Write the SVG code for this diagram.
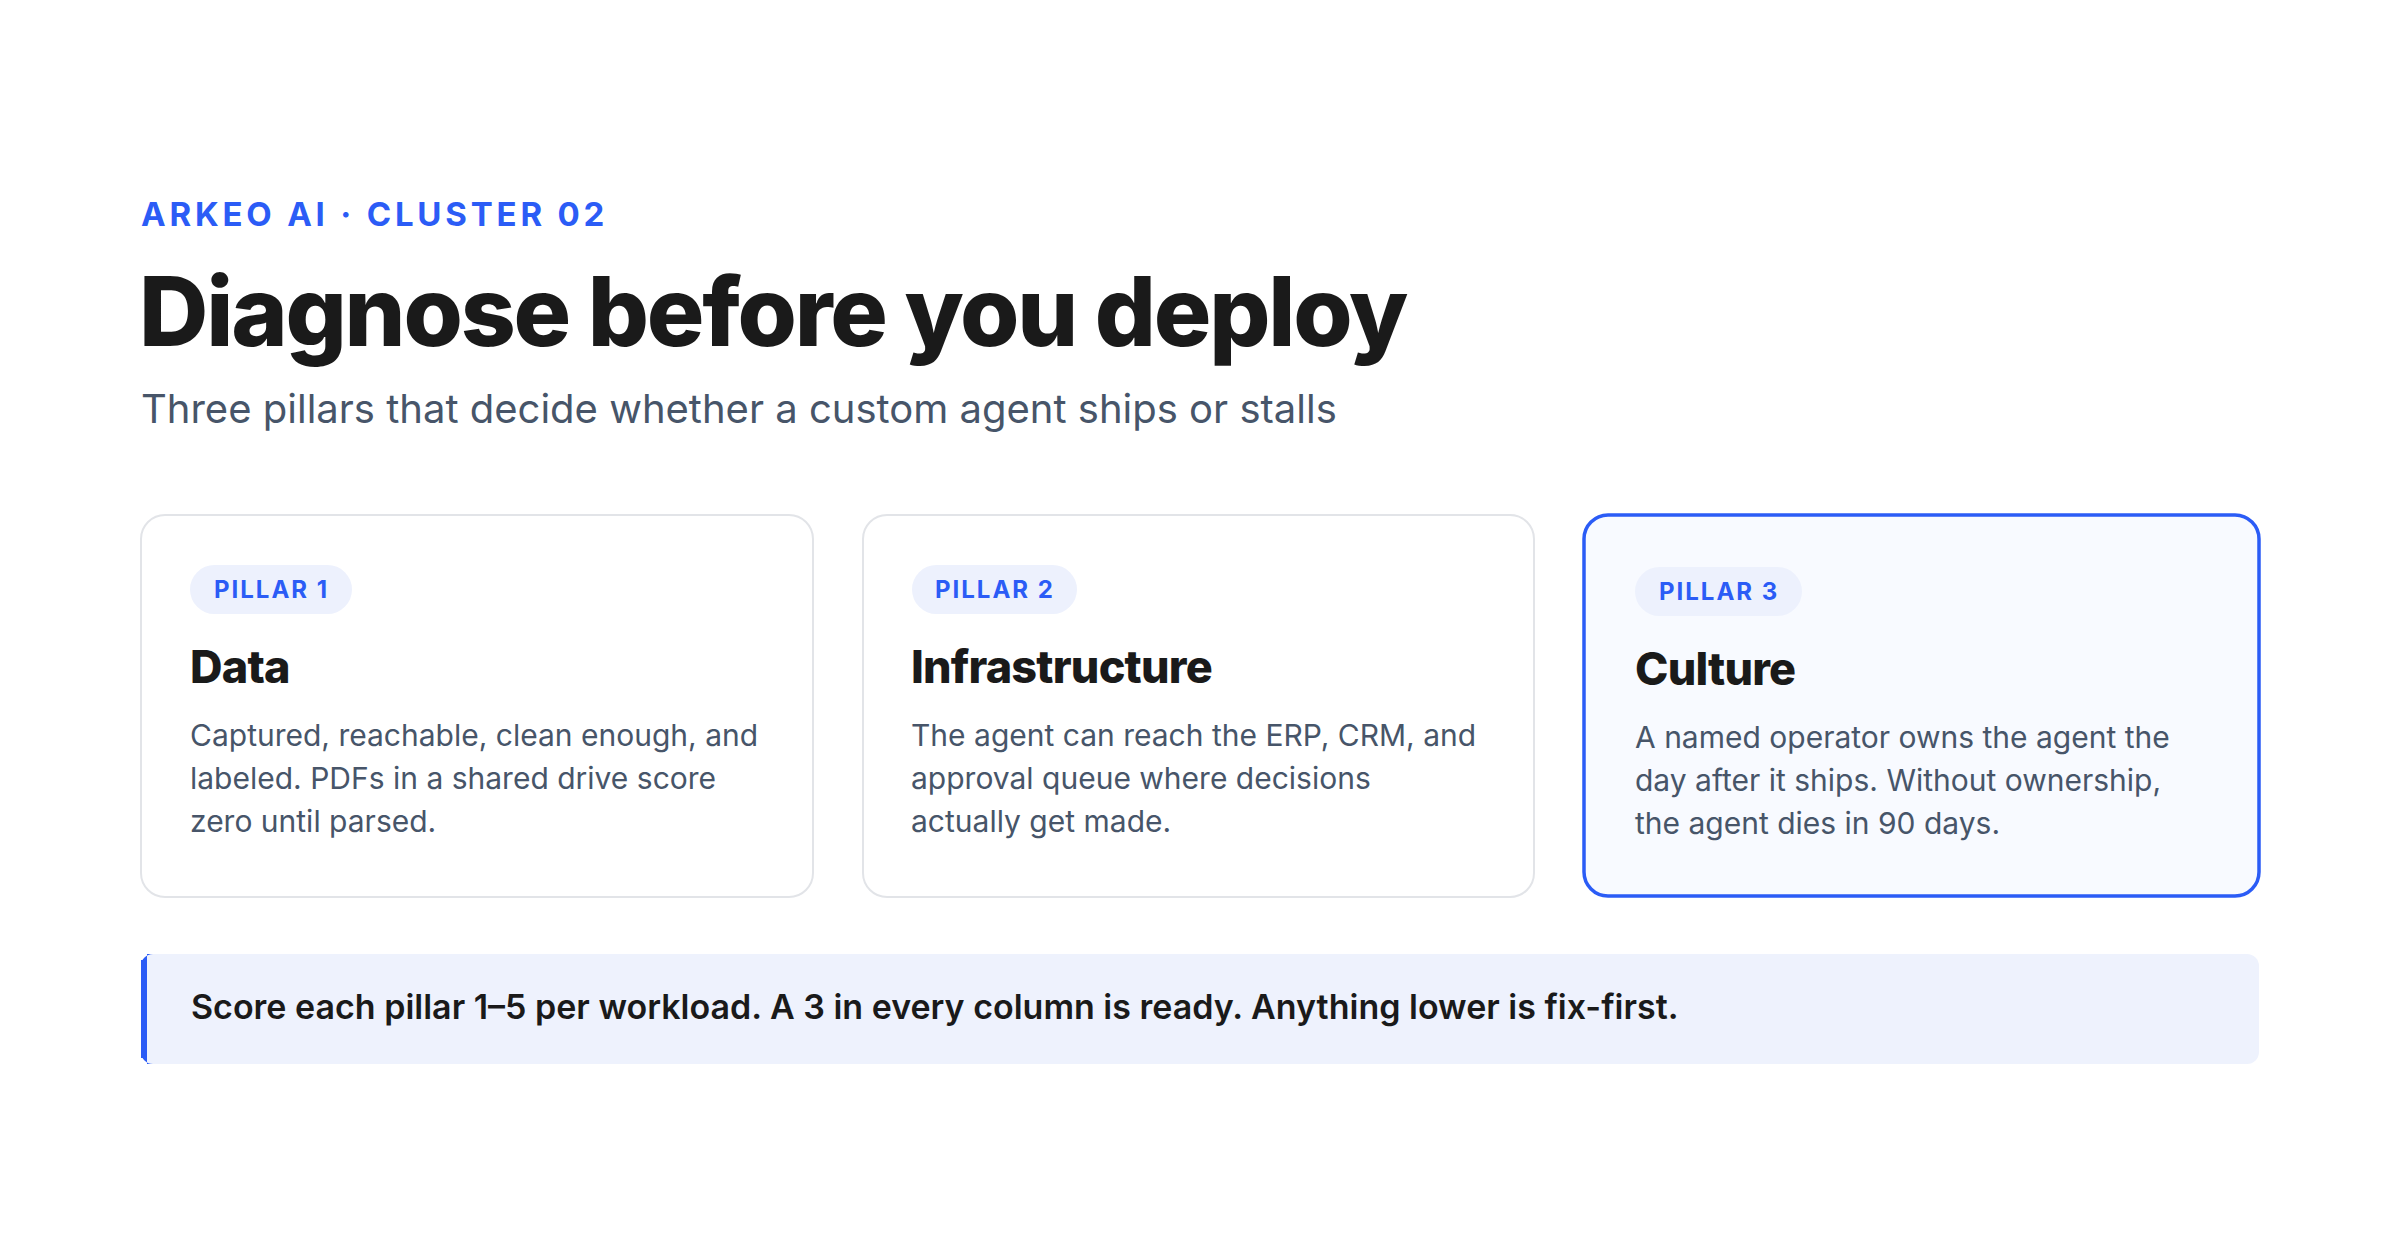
<svg xmlns="http://www.w3.org/2000/svg" width="2400" height="1260" viewBox="0 0 2400 1260">
<style>
text{font-family:Inter,"Noto Sans","Liberation Sans",sans-serif}
.eyebrow{font-size:33px;font-weight:700;fill:#2b5cf6;letter-spacing:3.8px}
.title{font-size:96px;font-weight:800;fill:#1a1a1a;letter-spacing:-2.2px}
.sub{font-size:40px;fill:#475569}
.card{fill:#ffffff;stroke:#e2e4e8;stroke-width:2}
.card.hl{fill:#f8faff;stroke:#2b5cf6;stroke-width:3.5}
.pill{fill:#edf1fd}
.pilltxt{font-size:24px;font-weight:700;fill:#2b5cf6;letter-spacing:2px}
.head{font-size:45px;font-weight:800;fill:#1a1a1a;letter-spacing:-0.8px}
.body{font-size:30px;fill:#475569}
.callbg{fill:#eef2fd}
.calltxt{font-size:34px;font-weight:600;fill:#1a1a1a}
</style>
<rect width="2400" height="1260" fill="#ffffff"/>
<g id="header">
<text class="eyebrow" x="141" y="226">ARKEO AI · CLUSTER 02</text>
<text class="title" x="139" y="346">Diagnose before you deploy</text>
<text class="sub" x="141" y="423">Three pillars that decide whether a custom agent ships or stalls</text>
</g>
<g id="pillar1">
<rect class="card" x="141" y="515" width="672" height="382" rx="24"/>
<rect class="pill" x="190" y="565" width="162" height="49" rx="24.5"/>
<text class="pilltxt" x="214" y="598">PILLAR 1</text>
<text class="head" x="190" y="683">Data</text>
<text class="body" x="190" y="746">Captured, reachable, clean enough, and</text>
<text class="body" x="190" y="789">labeled. PDFs in a shared drive score</text>
<text class="body" x="190" y="832">zero until parsed.</text>
</g>
<g id="pillar2">
<rect class="card" x="863" y="515" width="671" height="382" rx="24"/>
<rect class="pill" x="912" y="565" width="165" height="49" rx="24.5"/>
<text class="pilltxt" x="935" y="598">PILLAR 2</text>
<text class="head" x="911" y="683">Infrastructure</text>
<text class="body" x="911" y="746">The agent can reach the ERP, CRM, and</text>
<text class="body" x="911" y="789">approval queue where decisions</text>
<text class="body" x="911" y="832">actually get made.</text>
</g>
<g id="pillar3">
<rect class="card hl" x="1584" y="515" width="675" height="381" rx="24"/>
<rect class="pill" x="1635" y="567" width="167" height="49" rx="24.5"/>
<text class="pilltxt" x="1659" y="600">PILLAR 3</text>
<text class="head" x="1635" y="685">Culture</text>
<text class="body" x="1635" y="748">A named operator owns the agent the</text>
<text class="body" x="1635" y="791">day after it ships. Without ownership,</text>
<text class="body" x="1635" y="834">the agent dies in 90 days.</text>
</g>
<g id="callout">
<rect class="callbg" x="141" y="954" width="2118" height="110" rx="12"/>
<path d="M153 954 A12 12 0 0 0 141 966 V1052 A12 12 0 0 0 153 1064 H147 V954 Z" fill="#2b5cf6"/>
<rect x="141" y="960" width="6" height="98" fill="#2b5cf6"/>
<text class="calltxt" x="191" y="1019">Score each pillar 1–5 per workload. A 3 in every column is ready. Anything lower is fix-first.</text>
</g>
<g id="connectors"/>
</svg>
